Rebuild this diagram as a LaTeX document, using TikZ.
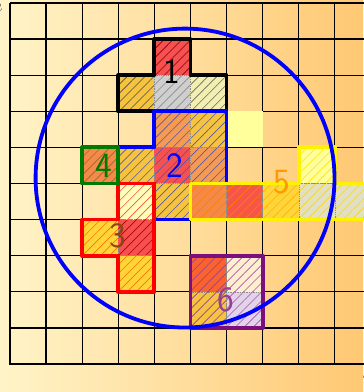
\documentclass[tikz,border=0pt]{standalone}
\usepackage{xcolor}
\usetikzlibrary{patterns.meta}

\definecolor{bgleft}{HTML}{FFF4C8}
\definecolor{bgright}{HTML}{FFC873}
\definecolor{cred}{HTML}{F65050}
\definecolor{cgold}{HTML}{F5C33E}
\definecolor{cgray}{HTML}{CFCFCF}
\definecolor{cpale}{HTML}{F2EFB0}
\definecolor{corange}{HTML}{F59A52}
\definecolor{cdeep}{HTML}{F58A48}
\definecolor{clemon}{HTML}{FFFF9C}
\definecolor{ccream}{HTML}{FFEFD0}
\definecolor{clav}{HTML}{E3D3EA}
\definecolor{cstone}{HTML}{E2E0C4}
\definecolor{cyel}{HTML}{FFD53A}
\definecolor{pgreen}{HTML}{007A00}
\definecolor{ppurple}{HTML}{7D0F7D}
\definecolor{pbrown}{HTML}{8B4513}
\definecolor{porange}{HTML}{FF9900}

\begin{document}
\begin{tikzpicture}[
    cell/.style 2 args={preaction={fill=#1},
        pattern={Lines[angle=45, distance=5pt, line width=0.5pt]}, pattern color=#2,
        postaction={draw=black!45, densely dotted, line width=0.4pt}},
    piece/.style={draw=#1, line width=3pt, line join=round},
    num/.style={font=\fontsize{28}{28}\selectfont\sffamily, text=#1, inner sep=0pt}
]
    \useasboundingbox (-0.276,-0.776) rectangle (9.78,10.083);

    % Background and board
    \shade[left color=bgleft, right color=bgright] (-0.276,-0.776) rectangle (9.78,10.083);
    \draw[line width=1pt] (0,0) grid (10,10);
    \draw[line width=1.8pt] (0,10) -- (0,0) -- (10,0);

    % Loose cell
    \fill[clemon] (6,6) rectangle ++(1,1);

    % Piece 1
    \path[cell={cred}{red!50!black}] (4,8) rectangle ++(1,1);
    \path[cell={cgold}{black!70}] (3,7) rectangle ++(1,1);
    \path[cell={cgray}{black!45}] (4,7) rectangle ++(1,1);
    \path[cell={cpale}{black!60}] (5,7) rectangle ++(1,1);

    % Piece 2
    \path[cell={corange}{blue!30!gray}] (4,6) rectangle ++(1,1);
    \path[cell={cgold}{blue!30!gray}] (5,6) rectangle ++(1,1);
    \path[cell={cgold}{blue!30!gray}] (3,5) rectangle ++(1,1);
    \path[cell={cred}{blue!30!gray}] (4,5) rectangle ++(1,1);
    \path[cell={corange}{blue!30!gray}] (5,5) rectangle ++(1,1);
    \path[cell={cgold}{blue!30!gray}] (4,4) rectangle ++(1,1);

    % Piece 3
    \path[cell={clemon!70!white}{red!70}] (3,4) rectangle ++(1,1);
    \path[cell={cyel}{orange!90!red}] (2,3) rectangle ++(1,1);
    \path[cell={cred}{red!70!black}] (3,3) rectangle ++(1,1);
    \path[cell={cyel}{orange!90!red}] (3,2) rectangle ++(1,1);

    % Piece 4
    \path[cell={cdeep}{brown!80!black}] (2,5) rectangle ++(1,1);

    % Piece 5
    \path[cell={cdeep}{orange}] (5,4) rectangle ++(1,1);
    \path[cell={cred!90!orange}{orange}] (6,4) rectangle ++(1,1);
    \path[cell={cyel}{orange!60!yellow}] (7,4) rectangle ++(1,1);
    \path[cell={cstone}{yellow!70!orange}] (8,4) rectangle ++(1,1);
    \path[cell={cstone}{yellow!70!orange}] (9,4) rectangle ++(1,1);
    \path[cell={clemon}{yellow!80!orange}] (8,5) rectangle ++(1,1);

    % Piece 6
    \path[cell={cred!60!orange}{ppurple!80}] (5,2) rectangle ++(1,1);
    \path[cell={ccream}{ppurple!70}] (6,2) rectangle ++(1,1);
    \path[cell={cgold}{ppurple!80}] (5,1) rectangle ++(1,1);
    \path[cell={clav}{ppurple!70}] (6,1) rectangle ++(1,1);

    % Outlines
    \draw[piece=black] (4,9) -- (5,9) -- (5,8) -- (6,8) -- (6,7) -- (3,7) -- (3,8) -- (4,8) -- cycle;
    \draw[piece=blue] (4,7) -- (6,7) -- (6,5) -- (5,5) -- (5,4) -- (4,4) -- (4,5) -- (3,5) -- (3,6) -- (4,6) -- cycle;
    \draw[piece=red] (3,5) -- (4,5) -- (4,2) -- (3,2) -- (3,3) -- (2,3) -- (2,4) -- (3,4) -- cycle;
    \draw[piece=pgreen] (2,5) rectangle (3,6);
    \draw[piece=yellow] (5,4) -- (10,4) -- (10,5) -- (9,5) -- (9,6) -- (8,6) -- (8,5) -- (5,5) -- cycle;
    \draw[piece=ppurple] (5,1) rectangle (7,3);

    % Enclosing circle
    \draw[blue, line width=3pt] (4.85,5.15) circle (4.14);

    % Labels
    \node[num=black] (n1) at (4.48,8.1) {1};
    \node[num=blue] (n2) at (4.56,5.5) {2};
    \node[num=pbrown] (n3) at (2.98,3.55) {3};
    \node[num=pgreen] (n4) at (2.6,5.5) {4};
    \node[num=porange] (n5) at (7.54,5.05) {5};
    \node[num=ppurple!80] (n6) at (5.99,1.78) {6};
    \node[font=\Large] (xlab) at (9.92,-0.43) {$n$};
    \node[font=\Large] (ylab) at (-0.42,9.86) {$m$};
\end{tikzpicture}
\end{document}
